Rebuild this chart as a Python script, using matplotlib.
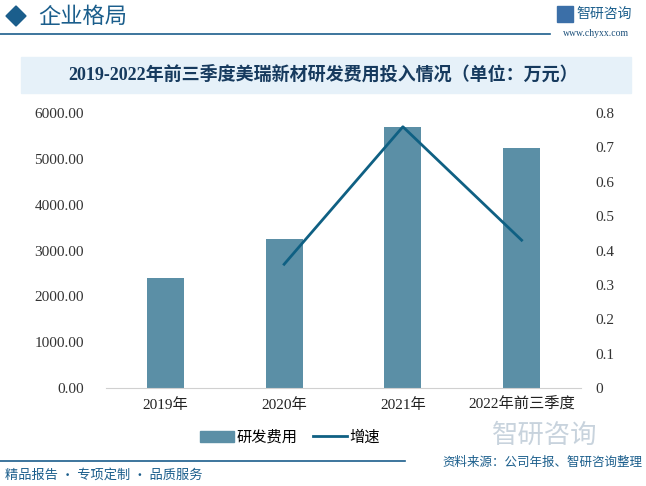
import matplotlib.pyplot as plt
from matplotlib.patches import Rectangle, Polygon
from matplotlib.lines import Line2D
import numpy as np

plt.rcParams['font.family'] = ['Liberation Serif', 'Noto Sans CJK SC', 'DejaVu Sans']

# 数据
categories = ['2019年', '2020年', '2021年', '2022年前三季度']
rd_cost = [2400, 3250, 5700, 5235]          # 研发费用（万元）
growth_x = [1, 2, 3]                        # 增速从2020年开始
growth = [0.36, 0.76, 0.43]                 # 增速
left_ticks = [0, 1000, 2000, 3000, 4000, 5000, 6000]
right_ticks = [0, 0.1, 0.2, 0.3, 0.4, 0.5, 0.6, 0.7, 0.8]

BAR_COLOR = '#5b8fa6'
LINE_COLOR = '#0f6083'
BLUE = '#1b5e8c'
SANS = ['Noto Sans CJK SC', 'DejaVu Sans']

fig = plt.figure(figsize=(6.46, 4.86), dpi=100)

# 页眉
fig.patches.append(Polygon([[6 / 646, 1 - 16 / 486], [16 / 646, 1 - 6 / 486],
                            [26 / 646, 1 - 16 / 486], [16 / 646, 1 - 26 / 486]],
                           closed=True, transform=fig.transFigure, color=BLUE))
fig.text(38 / 646, 1 - 16 / 486, '企业格局', fontsize=16, color=BLUE,
         family=SANS, va='center', ha='left')
fig.add_artist(Line2D([0, 550 / 646], [1 - 34 / 486] * 2, color=BLUE, lw=1.2))
fig.patches.append(Rectangle((557 / 646, 1 - 22 / 486), 16 / 646, 16 / 486,
                             transform=fig.transFigure, color='#3b6fa8'))
fig.text(604 / 646, 1 - 14 / 486, '智研咨询', fontsize=10, color=BLUE,
         family=SANS, va='center', ha='center')
fig.text(596 / 646, 1 - 34 / 486, 'www.chyxx.com', fontsize=7, color='#1b4f7a',
         va='center', ha='center')

# 标题栏
fig.patches.append(Rectangle((21 / 646, 1 - 93 / 486), 610 / 646, 36 / 486,
                             transform=fig.transFigure, color='#e6f1f9', zorder=0))
fig.text(323 / 646, 1 - 75 / 486, '2019-2022年前三季度美瑞新材研发费用投入情况（单位：万元）',
         fontsize=13, fontweight='bold', color='#163a5e', ha='center', va='center')

# 主图
ax = fig.add_axes([106 / 646, 98 / 486, 475 / 646, 275 / 486])
x = np.arange(len(categories))
ax.bar(x, rd_cost, width=0.31, color=BAR_COLOR, zorder=2, label='研发费用')
ax.set_xlim(-0.5, len(categories) - 0.5)
ax.set_ylim(0, 6000)
ax.set_yticks(left_ticks)
ax.set_yticklabels([f'{v:.2f}' for v in left_ticks])
ax.set_xticks(x)
ax.set_xticklabels(categories)
for s in ['top', 'right', 'left']:
    ax.spines[s].set_visible(False)
ax.spines['bottom'].set_color('#d0d0d0')
ax.tick_params(axis='y', length=0, pad=16, labelsize=11, colors='#333333')
ax.tick_params(axis='x', length=0, pad=7, labelsize=11, colors='#222222')

ax2 = ax.twinx()
ax2.plot(growth_x, growth, color=LINE_COLOR, lw=2, zorder=3, label='增速')
ax2.set_ylim(0, 0.8)
ax2.set_yticks(right_ticks)
ax2.set_yticklabels(['0'] + [f'{v:.1f}' for v in right_ticks[1:]])
for s in ['top', 'right', 'left', 'bottom']:
    ax2.spines[s].set_visible(False)
ax2.tick_params(axis='y', length=0, pad=10, labelsize=11, colors='#333333')

# 图例
handles = [Rectangle((0, 0), 1, 1, color=BAR_COLOR),
           Line2D([0], [0], color=LINE_COLOR, lw=2)]
fig.legend(handles, ['研发费用', '增速'], loc='center', bbox_to_anchor=(290 / 646, 1 - 437 / 486),
           ncol=2, frameon=False, prop={'family': SANS, 'size': 11},
           handlelength=2.2, handletextpad=0.2, columnspacing=1.0)

# 页脚
fig.add_artist(Line2D([0, 405 / 646], [1 - 461 / 486] * 2, color=BLUE, lw=1.2))
fig.text(5 / 646, 1 - 475 / 486, '精品报告 · 专项定制 · 品质服务', fontsize=9.5, color=BLUE,
         family=SANS, va='center', ha='left')
fig.text(642 / 646, 1 - 462 / 486, '资料来源：公司年报、智研咨询整理', fontsize=9, color=BLUE,
         family=SANS, va='center', ha='right')
fig.text(545 / 646, 1 - 435 / 486, '智研咨询', fontsize=19, color='#c8d3dd',
         family=SANS, va='center', ha='center', zorder=0)

fig.savefig('out.png', dpi=100)
